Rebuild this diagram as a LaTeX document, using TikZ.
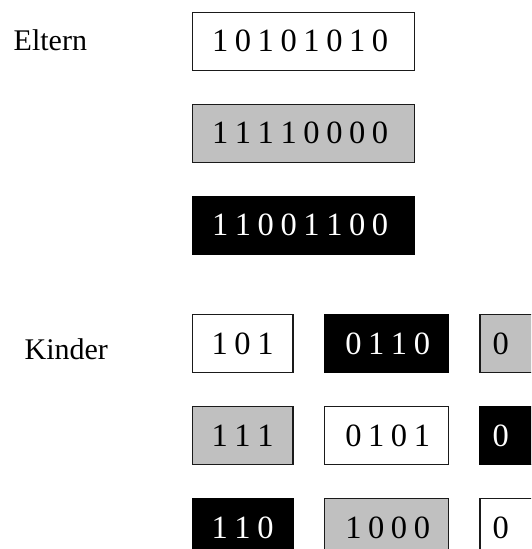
\documentclass[tikz,border=0pt]{standalone}
\usepackage{fontspec}
\setmainfont{Liberation Serif}
\definecolor{cellgray}{HTML}{C0C0C0}
\definecolor{cellline}{HTML}{1A1A1A}
% fixed gap between the digits of a bit string
\newcommand\bg{\kern6.6pt\relax}
\begin{document}
\begin{tikzpicture}[x=1pt,y=-1pt,
  every node/.style={font=\fontsize{30pt}{36pt}\selectfont},
  cell/.style={draw=cellline, line width=1.3pt, minimum height=58pt,
    inner ysep=0pt, align=left, anchor=north west,
    font=\fontsize{32.5pt}{38pt}\selectfont},
  whitecell/.style={cell, fill=white, text=black},
  graycell/.style={cell, fill=cellgray, text=black},
  blackcell/.style={cell, draw=black, fill=black, text=white},
  wide/.style={inner xsep=19.4pt, text width=182.7pt},
  colA/.style={inner xsep=19pt, text width=62.2pt},
  colB/.style={inner xsep=20.6pt, text width=82.5pt},
  colC/.style={inner xsep=12.6pt, text width=75pt},
  rowlabel/.style={anchor=base west, inner sep=0pt}]
  \useasboundingbox (0,0) rectangle (531,549);
  \clip (0,0) rectangle (531,549);

  % parents
  \node[rowlabel] (eltern) at (13.5,50.8) {Eltern};
  \node[whitecell, wide] (p1) at (192,11.5) {1\bg0\bg1\bg0\bg1\bg0\bg1\bg0};
  \node[graycell,  wide] (p2) at (192,103.5) {1\bg1\bg1\bg1\bg0\bg0\bg0\bg0};
  \node[blackcell, wide] (p3) at (192,195.5) {1\bg1\bg0\bg0\bg1\bg1\bg0\bg0};

  % children: first segment
  \node[rowlabel] (kinder) at (24.4,359.7) {Kinder};
  \node[whitecell, colA] (k11) at (192,314) {1\bg0\bg1};
  \node[graycell,  colA] (k21) at (192,406) {1\bg1\bg1};
  \node[blackcell, colA] (k31) at (192,498) {1\bg1\bg0};

  % children: middle segment
  \node[blackcell, colB] (k12) at (324,314) {0\bg1\bg1\bg0};
  \node[whitecell, colB] (k22) at (324,406) {0\bg1\bg0\bg1};
  \node[graycell,  colB] (k32) at (324,498) {1\bg0\bg0\bg0};

  % children: last segment
  \node[graycell,  colC] (k13) at (479.3,314) {0};
  \node[blackcell, colC] (k23) at (479.3,406) {0};
  \node[whitecell, colC] (k33) at (479.3,498) {0};
\end{tikzpicture}
\end{document}
